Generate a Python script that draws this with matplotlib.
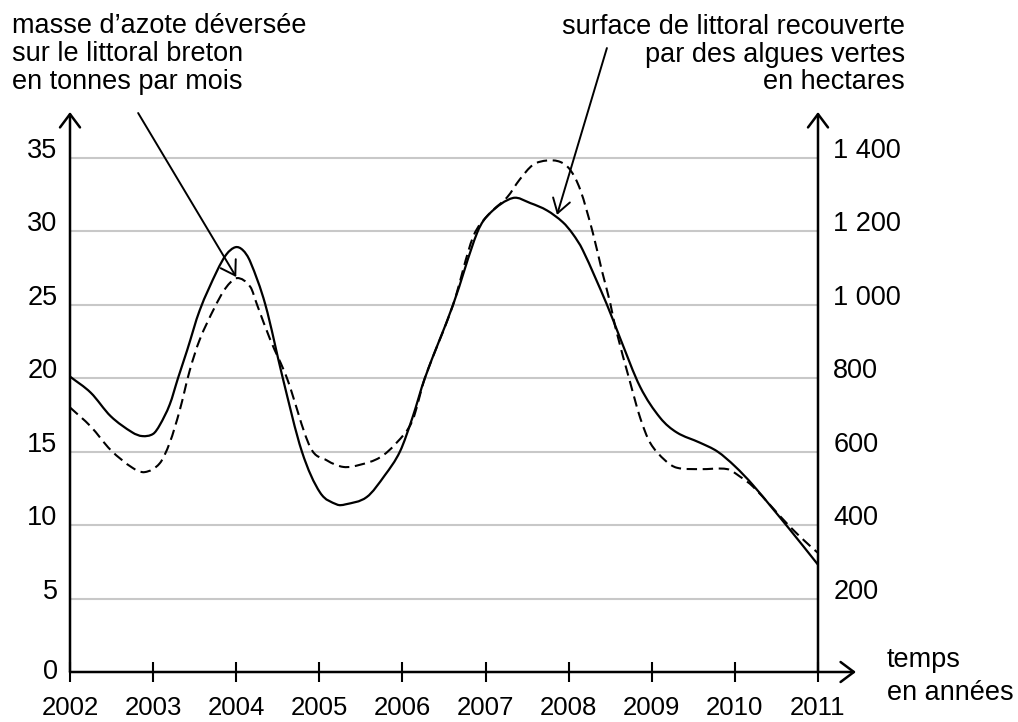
import matplotlib
matplotlib.use("Agg")
import matplotlib.pyplot as plt
from matplotlib.path import Path
from matplotlib.patches import PathPatch

plt.rcParams['font.family'] = ['Liberation Sans', 'DejaVu Sans']

annees = list(range(2002, 2012))
graduations_azote = [0, 5, 10, 15, 20, 25, 30, 35]
graduations_algues = [200, 400, 600, 800, 1000, 1200, 1400]
etiquettes_algues = ["200", "400", "600", "800", "1 000", "1 200", "1 400"]

# masse d'azote (tonnes par mois) - courbe pleine, axe de gauche
t_azote = [2002.00, 2002.25, 2002.49, 2002.75, 2002.87, 2003.00, 2003.08, 2003.20,
           2003.30, 2003.41, 2003.56, 2003.77, 2003.88, 2003.99, 2004.08, 2004.17,
           2004.35, 2004.56, 2004.79, 2005.01, 2005.21, 2005.31, 2005.57, 2005.79,
           2005.97, 2006.12, 2006.27, 2006.61, 2006.90, 2007.05, 2007.33, 2007.54,
           2007.74, 2007.93, 2008.05, 2008.17, 2008.46, 2008.62, 2008.86, 2009.10,
           2009.30, 2009.58, 2009.79, 2010.00, 2010.22, 2010.66, 2011.00]
azote = [20.1, 19.0, 17.4, 16.3, 16.05, 16.2, 16.8, 18.2,
         20.0, 21.9, 24.6, 27.3, 28.4, 28.9, 28.7, 27.9,
         25.0, 20.0, 15.0, 12.2, 11.4, 11.4, 11.9, 13.4,
         15.0, 17.3, 20.0, 25.0, 29.9, 31.2, 32.25, 31.9,
         31.4, 30.6, 29.8, 28.7, 25.0, 22.7, 19.4, 17.3,
         16.3, 15.6, 15.0, 14.0, 12.7, 9.7, 7.3]

# surface recouverte d'algues vertes (hectares) - tirets, axe de droite
t_algues = [2002.00, 2002.25, 2002.49, 2002.75, 2002.90, 2003.08, 2003.20, 2003.32,
            2003.44, 2003.56, 2003.74, 2003.87, 2004.01, 2004.17, 2004.25, 2004.41,
            2004.61, 2004.89, 2005.09, 2005.29, 2005.49, 2005.73, 2005.93, 2006.12,
            2006.27, 2006.61, 2006.85, 2007.05, 2007.26, 2007.41, 2007.57, 2007.74,
            2007.90, 2008.02, 2008.14, 2008.29, 2008.40, 2008.50, 2008.56, 2008.74,
            2008.86, 2008.98, 2009.16, 2009.30, 2009.58, 2009.91, 2010.06, 2010.22,
            2010.66, 2010.90, 2011.00]
algues = [720, 668, 604, 556, 544, 568, 624, 712,
          820, 904, 992, 1044, 1072, 1048, 1000, 904,
          800, 612, 576, 558, 564, 584, 624, 684,
          800, 1000, 1184, 1248, 1292, 1340, 1380, 1392,
          1388, 1366, 1312, 1196, 1092, 1004, 940, 788,
          692, 624, 576, 556, 552, 552, 532, 504,
          396, 344, 324]


def courbe_lisse(x, y):
    # chemin de Bezier cubiques passant par les points lus (tangentes d'Hermite)
    n = len(x)
    d = []
    for i in range(n):
        a = max(i - 1, 0)
        b = min(i + 1, n - 1)
        d.append((y[b] - y[a]) / (x[b] - x[a]))
    verts = [(x[0], y[0])]
    codes = [Path.MOVETO]
    for i in range(n - 1):
        h = (x[i + 1] - x[i]) / 3
        verts += [(x[i] + h, y[i] + d[i] * h),
                  (x[i + 1] - h, y[i + 1] - d[i + 1] * h),
                  (x[i + 1], y[i + 1])]
        codes += [Path.CURVE4] * 3
    return Path(verts, codes)


W, H = 1018, 722
fig = plt.figure(figsize=(W / 100, H / 100), dpi=100)
ax = fig.add_axes([70 / W, 50 / H, 748 / W, 560 / H])
ax2 = ax.twinx()

ymax = 38.1
ax.set_xlim(2002, 2011)
ax.set_ylim(0, ymax)
ax2.set_ylim(0, ymax * 40)
for a in (ax, ax2):
    for s in a.spines.values():
        s.set_visible(False)

# quadrillage horizontal
ax.hlines(graduations_azote[1:], 2002, 2011, color='#c8c8c8', lw=1.5, zorder=1)

# axes avec fleches
fleche_axe = dict(arrowstyle='->,head_length=0.4,head_width=0.3', lw=1.8,
                  color='black', shrinkA=0, shrinkB=0, mutation_scale=24)
ax.annotate('', xy=(2002, ymax), xytext=(2002, 0), arrowprops=fleche_axe,
            annotation_clip=False)
ax.annotate('', xy=(2011, ymax), xytext=(2011, 0), arrowprops=fleche_axe,
            annotation_clip=False)
ax.annotate('', xy=(2011.457, 0), xytext=(2002, 0), arrowprops=fleche_axe,
            annotation_clip=False)

# graduations
ax.set_xticks(annees)
ax.set_xticklabels([str(a) for a in annees], fontsize=18.5)
ax.tick_params(axis='x', direction='inout', length=15, width=1.5, pad=10)

ax.set_yticks(graduations_azote)
ax.set_yticklabels([str(v) for v in graduations_azote], fontsize=19.5)
ax.tick_params(axis='y', length=0, pad=9)
for i, lab in enumerate(ax.get_yticklabels()):
    lab.set_va('center' if i == 0 else 'baseline')

ax2.set_yticks(graduations_algues)
ax2.set_yticklabels(etiquettes_algues, fontsize=19.5)
ax2.tick_params(axis='y', length=0, pad=11)
for lab in ax2.get_yticklabels():
    lab.set_va('baseline')

# courbes
ax.add_patch(PathPatch(courbe_lisse(t_azote, azote), fill=False, edgecolor='black',
                       lw=1.6, zorder=3))
ax2.add_patch(PathPatch(courbe_lisse(t_algues, algues), fill=False, edgecolor='black',
                        lw=1.5, linestyle=(0, (5, 2.7)), zorder=3))

# fleches des legendes
fleche = dict(arrowstyle='->,head_length=0.55,head_width=0.35', lw=1.4,
              color='black', shrinkA=0, shrinkB=0, mutation_scale=18)
ax.annotate('', xy=(2004.0, 26.87), xytext=(2002.82, 38.03), arrowprops=fleche,
            annotation_clip=False)
ax.annotate('', xy=(2007.86, 31.1), xytext=(2008.46, 42.45), arrowprops=fleche,
            annotation_clip=False)

# textes
fs = 19.5
for y, txt in [(33, "masse d’azote déversée"), (61, "sur le littoral breton"),
               (89, "en tonnes par mois")]:
    fig.text(12 / W, 1 - y / H, txt, fontsize=fs, va='baseline', ha='left')
for y, txt in [(34, "surface de littoral recouverte"), (62, "par des algues vertes"),
               (89, "en hectares")]:
    fig.text(905 / W, 1 - y / H, txt, fontsize=fs, va='baseline', ha='right')
fig.text(887 / W, 1 - 667 / H, "temps", fontsize=fs, va='baseline', ha='left')
fig.text(887 / W, 1 - 700 / H, "en années", fontsize=fs, va='baseline', ha='left')

fig.savefig("out.png", dpi=100)
